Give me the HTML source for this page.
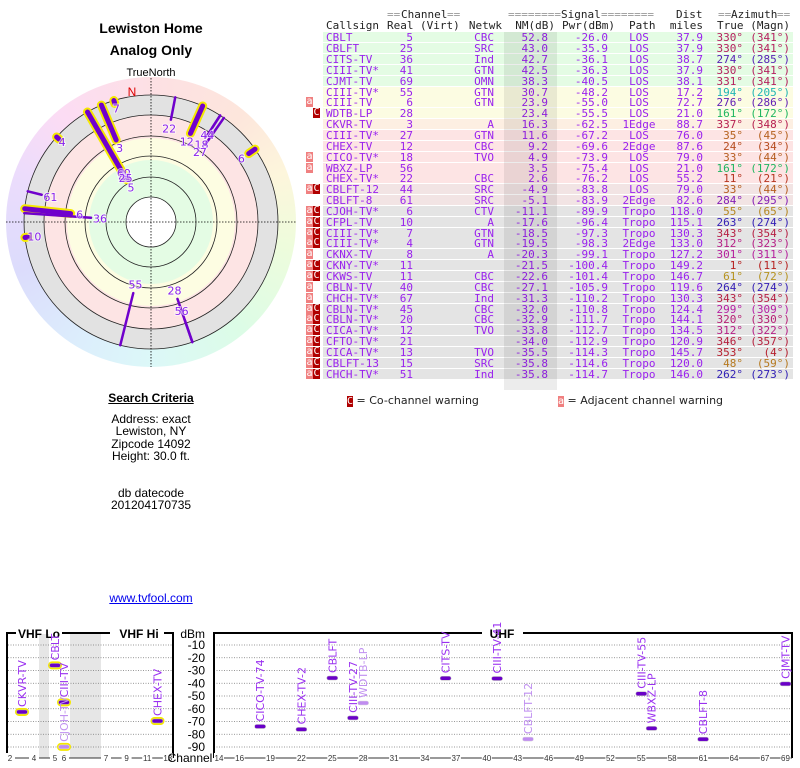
<!DOCTYPE html>
<html><head><meta charset="utf-8">
<style>
body{margin:0;width:800px;height:768px;position:relative;overflow:hidden;background:#fff;font-family:"Liberation Sans",sans-serif;}
.a{position:absolute;white-space:pre;}
.ctr{transform:translateX(-50%);text-align:center;}
.mono{font-family:"DejaVu Sans Mono","Liberation Mono",monospace;font-size:11px;line-height:11px;}
.row{position:absolute;left:323px;width:470px;height:10px;}
.cell{position:absolute;white-space:pre;top:0;font-family:"DejaVu Sans Mono","Liberation Mono",monospace;font-size:11px;line-height:11px;color:#9a22ee;}
.badge{position:absolute;width:7px;height:10px;font-family:"DejaVu Sans Mono",monospace;font-size:10px;line-height:10px;color:#fff;text-align:center;}
</style></head>
<body>
<div class="a ctr" style="left:151px;top:20px;font-weight:bold;font-size:14px;">Lewiston Home</div>
<div class="a ctr" style="left:151px;top:42px;font-weight:bold;font-size:14px;">Analog Only</div>
<div class="a ctr" style="left:151px;top:67px;font-size:11px;">TrueNorth</div>

<div class="a" style="left:6px;top:77px;width:290px;height:290px;border-radius:50%;background:conic-gradient(from 0deg,#fde0e4,#fde6dc 40deg,#fdf6dc 70deg,#eefcdc 100deg,#dcfce6 140deg,#dcf8f8 180deg,#dceefc 210deg,#dcdcfc 250deg,#ecdcfc 290deg,#fcdcf4 320deg,#fde0e4 360deg);"></div>
<svg class="a" style="left:0;top:0" width="300" height="380" id="polar"></svg>

<div class="a ctr" style="left:151px;top:391px;font-weight:bold;font-size:12px;text-decoration:underline;">Search Criteria</div>
<div class="a ctr" style="left:151px;top:413px;font-size:12px;line-height:12.4px;">Address: exact
Lewiston, NY
Zipcode 14092
Height: 30.0 ft.</div>
<div class="a ctr" style="left:151px;top:487px;font-size:12px;line-height:12.4px;">db datecode
201204170735</div>
<div class="a ctr" style="left:151px;top:591px;font-size:12px;color:#0000ee;text-decoration:underline;">www.tvfool.com</div>

<div id="table"></div>
<div class="a" style="left:504px;top:32px;width:53px;height:358px;background:rgba(0,0,0,0.075);"></div>

<div class="a mono" style="left:347px;top:395px;font-size:11px;color:#222;font-family:'DejaVu Sans',sans-serif"><span style="background:#b00000;color:#fff;font-family:'DejaVu Sans Mono',monospace;font-size:10px">C</span> = Co-channel warning</div>
<div class="a mono" style="left:558px;top:395px;font-size:11px;color:#222;font-family:'DejaVu Sans',sans-serif"><span style="background:#f08080;color:#fff;font-family:'DejaVu Sans Mono',monospace;font-size:10px">a</span> = Adjacent channel warning</div>

<svg class="a" style="left:0;top:620px" width="800" height="148" id="spec"></svg>

<script>
// ---- station table data ----
const callsigns=["CBLT","CBLFT","CITS-TV","CIII-TV*","CJMT-TV","CIII-TV*","CIII-TV","WDTB-LP","CKVR-TV","CIII-TV*","CHEX-TV","CICO-TV*","WBXZ-LP","CHEX-TV*","CBLFT-12","CBLFT-8","CJOH-TV*","CFPL-TV","CIII-TV*","CIII-TV*","CKNX-TV","CKNY-TV*","CKWS-TV","CBLN-TV","CHCH-TV*","CBLN-TV*","CBLN-TV*","CICA-TV*","CFTO-TV*","CICA-TV*","CBLFT-13","CHCH-TV*"];
const channels=[5,25,36,41,69,55,6,28,3,27,12,18,56,22,44,61,6,10,7,4,8,11,11,40,67,45,20,12,21,13,15,51];
const networks=["CBC","SRC","Ind","GTN","OMN","GTN","GTN","","A","GTN","CBC","TVO","","CBC","SRC","SRC","CTV","A","GTN","GTN","A","","CBC","CBC","Ind","CBC","CBC","TVO","","TVO","SRC","Ind"];
const nmDb=[52.8,43.0,42.7,42.5,38.3,30.7,23.9,23.4,16.3,11.6,9.2,4.9,3.5,2.6,-4.9,-5.1,-11.1,-17.6,-18.5,-19.5,-20.3,-21.5,-22.6,-27.1,-31.3,-32.0,-32.9,-33.8,-34.0,-35.5,-35.8,-35.8];
const pwrDbm=[-26.0,-35.9,-36.1,-36.3,-40.5,-48.2,-55.0,-55.5,-62.5,-67.2,-69.6,-73.9,-75.4,-76.2,-83.8,-83.9,-89.9,-96.4,-97.3,-98.3,-99.1,-100.4,-101.4,-105.9,-110.2,-110.8,-111.7,-112.7,-112.9,-114.3,-114.6,-114.7];
const paths=["LOS","LOS","LOS","LOS","LOS","LOS","LOS","LOS","1Edge","LOS","2Edge","LOS","LOS","LOS","LOS","2Edge","Tropo","Tropo","Tropo","2Edge","Tropo","Tropo","Tropo","Tropo","Tropo","Tropo","Tropo","Tropo","Tropo","Tropo","Tropo","Tropo"];
const distMiles=[37.9,37.9,38.7,37.9,38.1,17.2,72.7,21.0,88.7,76.0,87.6,79.0,21.0,55.2,79.0,82.6,118.0,115.1,130.3,133.0,127.2,149.2,146.7,119.6,130.3,124.4,144.1,134.5,120.9,145.7,120.0,146.0];
const azTrue=[330,330,274,330,331,194,276,161,337,35,24,33,161,11,33,284,55,263,343,312,301,1,61,264,343,299,320,312,346,353,48,262];
const azMagn=[341,341,285,341,341,205,286,172,348,45,34,44,172,21,44,295,65,274,354,323,311,11,72,274,354,309,330,322,357,4,59,273];
const warnings=["","","","","","","a","C","","","","a","a","","aC","","aC","aC","aC","aC","a","aC","aC","a","a","aC","aC","aC","aC","aC","aC","aC"];

// ---- spectrum data ----
const specNames=["CKVR-TV","CBLT","CIII-TV","CJOH-TV","CHEX-TV","CICO-TV-74","CHEX-TV-2","CBLFT","CIII-TV-27","WDTB-LP","CITS-TV","CIII-TV-41","CBLFT-12","CIII-TV-55","WBXZ-LP","CBLFT-8","CJMT-TV"];
const specCh=[3,5,6,6,12,18,22,25,27,28,36,41,44,55,56,61,69];
const specPwr=[-62.5,-26.0,-55.0,-89.9,-69.6,-73.9,-76.2,-35.9,-67.2,-55.5,-36.1,-36.3,-83.8,-48.2,-75.4,-83.9,-40.5];
const specFaded=[false,false,false,true,false,false,false,false,false,true,false,false,true,false,false,false,false];
const dbmTicks=[-10,-20,-30,-40,-50,-60,-70,-80,-90];
const vhfTicks=[2,4,5,6,7,9,11,13];
const uhfTicks=[14,16,19,22,25,28,31,34,37,40,43,46,49,52,55,58,61,64,67,69];

const NS="http://www.w3.org/2000/svg";
function mk(tag,attrs,parent){const e=document.createElementNS(NS,tag);for(const k in attrs)e.setAttribute(k,attrs[k]);parent.appendChild(e);return e;}

function azColor(a){let h;
 if(a<=60)h=a*0.75; else if(a<=200)h=45+(a-60); else if(a<=270)h=185+(a-200); else if(a<=300)h=255+(a-270)*1.8; else h=309+(a-300)*0.85;
 return "hsl("+(h%360)+",70%,42%)";}

// ---- table ----
const T=document.getElementById('table');
function div(cls,style,txt,parent){const d=document.createElement('div');d.className=cls;d.style.cssText=style;d.textContent=txt;parent.appendChild(d);return d;}
const hdr=[["==",387,14,"#999"],["Channel",401,14,"#222"],["==",447,14,"#999"],
 ["========",508,14,"#999"],["Signal",561,14,"#222"],["========",601,14,"#999"],
 ["==",718,14,"#999"],["Azimuth",731,14,"#222"],["==",777,14,"#999"]];
hdr.forEach(h=>{const d=div('a mono',`left:${h[1]}px;top:${h[2]-5}px;color:${h[3]}`,h[0],T);});
const h2=[["Callsign",326,"l"],["Real",387,"l"],["(Virt)",420,"l"],["Netwk",502,"r"],["NM(dB)",555,"r"],["Pwr(dBm)",615,"r"],["Path",629,"l"],["miles",703,"r"],["True",717,"l"],["(Magn)",790,"r"]];
const dist=div('a mono','left:676px;top:9px;color:#222',"Dist",T);

h2.forEach(h=>{const s=h[2]=="l"?`left:${h[1]}px`:`right:${800-h[1]}px`;
 const d=div('a mono',s+';top:20px;color:#222',h[0],T);});
function rowBg(i){if(i<5)return"#e4fce4";if(i<8)return"#fcfce2";if(i<9)return"#fdefe2";if(i<14)return"#fde4e4";if(i<16)return"#f2e4e4";return"#e4e4e4";}
callsigns.forEach((c,i)=>{
 const top=32.3+i*10.85;
 const r=div('row',`top:${top}px;background:${rowBg(i)}`,'',T);
 
 const cells=[[c,3,"l"],[String(channels[i]),413,"r"],[networks[i],494,"r"],[nmDb[i].toFixed(1),548,"r"],[pwrDbm[i].toFixed(1),608,"r"],[paths[i],639,"c"],[distMiles[i].toFixed(1),703,"r"]];
 cells.forEach(k=>{let s;if(k[2]=="l")s=`left:${k[1]}px`;else if(k[2]=="r")s=`right:${793-k[1]}px`;else s=`left:${k[1]-323}px;transform:translateX(-50%)`;
  const d=div('cell',s,k[0],r);});
 const col=azColor(azTrue[i]);
 const t=div('cell',`right:${793-743}px;color:${col}`,azTrue[i]+"°",r);
 const m=div('cell',`right:${793-790}px;color:${col}`,"("+azMagn[i]+"°)",r);
 const w=warnings[i];
 if(w.includes('C')){const b=div('badge',`left:${313}px;top:${top}px;background:#b00000`,'C',T);}
 if(w.includes('a')){const b=div('badge',`left:306px;top:${top}px;background:#f08080`,'a',T);}
});

// ---- polar ----
const P=document.getElementById('polar');
const cx=151,cy=222;
const bands=[[127,"#e2e2e2"],[107,"#fde4e4"],[84,"#fdfde2"],[62,"#e4fce4"],[25,"#ffffff"]];
bands.forEach(b=>{const e=mk('circle',{cx:cx,cy:cy,r:b[0],fill:b[1]},P);});
[25,45,66,86,107,127].forEach(r=>{const e=mk('circle',{cx:cx,cy:cy,r:r,fill:"none",stroke:"#222","stroke-width":0.8},P);});
let e1=mk('line',{x1:6,y1:cy,x2:296,y2:cy,stroke:"#000","stroke-width":0.8,"stroke-dasharray":"1.5,1.5"},P);

let e2=mk('line',{x1:cx,y1:78,x2:cx,y2:367,stroke:"#000","stroke-width":0.8,"stroke-dasharray":"1.5,1.5"},P);

let nt=mk('text',{x:132,y:96,fill:"#dd0000","font-size":12,"text-anchor":"middle","font-family":"Liberation Sans"},P);nt.textContent="N";

function rOf(nm){return Math.min(125,43+(52.8-nm)*1.1);}
function pt(az,r){const a=az*Math.PI/180;return[cx+r*Math.sin(a),cy-r*Math.cos(a)];}
const order=callsigns.map((c,i)=>i).filter(i=>nmDb[i]>=-20).reverse();
order.forEach(i=>{
 const vhf=channels[i]<=13;const r0=rOf(nmDb[i]);const r1=Math.max(r0+6,127);
 const a=pt(azTrue[i],Math.min(r0+6,124)),b=pt(azTrue[i],Math.min(r1,127));
 if(vhf){const y=mk('line',{x1:a[0],y1:a[1],x2:b[0],y2:b[1],stroke:"#f5e800","stroke-width":9,"stroke-linecap":"round"},P);}
 const l=mk('line',{x1:a[0],y1:a[1],x2:b[0],y2:b[1],stroke:"#7000cc","stroke-width":vhf?5:2.5,"stroke-linecap":"round"},P);
 
});
order.forEach(i=>{
 const r0=rOf(nmDb[i]);const p=pt(azTrue[i],r0-3);
 const t=mk('text',{x:p[0],y:p[1]+4,fill:"#8a22ee","font-size":11,"text-anchor":"middle","font-family":"DejaVu Sans","stroke":"rgba(255,255,255,0.6)","stroke-width":2,"paint-order":"stroke"},P);
 t.textContent=channels[i];
 
});

// ---- spectrum ----
const S=document.getElementById('spec');
function yOf(d){return 25+(-10-d)*1.275;}
function chX(ch){if(ch<=4)return 10+(ch-2)*12;if(ch==5)return 55;if(ch==6)return 64;if(ch<=13)return 106+(ch-7)*10.3;return 219+(ch-14)*10.3;}
[[39,49],[70,101]].forEach(g=>{const r=mk('rect',{x:g[0],y:14,width:g[1]-g[0],height:124,fill:"#e6e6e6"},S);});
dbmTicks.forEach(d=>{
 [[8,172],[214,791]].forEach(s=>{const l=mk('line',{x1:s[0],y1:yOf(d),x2:s[1],y2:yOf(d),stroke:"#777","stroke-width":0.8,"stroke-dasharray":"1,1.5"},S);});
 const t=mk('text',{x:205,y:yOf(d)+4,"font-size":12,"text-anchor":"end","font-family":"Liberation Sans"},S);t.textContent=d;
 
});
let du=mk('text',{x:205,y:18,"font-size":12,"text-anchor":"end","font-family":"Liberation Sans"},S);du.textContent="dBm";

const fr=["M7,138 L7,13 L16,13","M62,13 L110,13","M164,13 L173,13 L173,138","M214,138 L214,13 L482,13","M523,13 L792,13 L792,138"];
fr.forEach(f=>{const p=mk('path',{d:f,fill:"none",stroke:"#000","stroke-width":2},S);});
[["VHF Lo",39],["VHF Hi",139],["UHF",502]].forEach(b=>{const t=mk('text',{x:b[1],y:18,"font-size":12,"font-weight":"bold","text-anchor":"middle","font-family":"Liberation Sans"},S);t.textContent=b[0];});
[[7,173],[214,792]].forEach(s=>{const l=mk('line',{x1:s[0],y1:138,x2:s[1],y2:138,stroke:"#333","stroke-width":1},S);});
vhfTicks.concat(uhfTicks).forEach(c=>{const x=chX(c);
 const bg=mk('rect',{x:x-5,y:133,width:10,height:10,fill:"#fff"},S);
 const t=mk('text',{x:x,y:141,"font-size":8,"text-anchor":"middle","font-family":"Liberation Sans",fill:"#333"},S);t.textContent=c;
 });
let ct=mk('text',{x:190,y:142,"font-size":12,"text-anchor":"middle","font-family":"Liberation Sans"},S);ct.textContent="Channel";

specNames.forEach((n,i)=>{
 const x=chX(specCh[i]),y=yOf(specPwr[i]);const vhf=specCh[i]<=13;const col=specFaded[i]?"#c08cf0":"#6a00c8";
 if(vhf){const h=mk('rect',{x:x-7,y:y-4,width:14,height:8,rx:4,fill:"#f5e800"},S);}
 const m=mk('rect',{x:x-5.5,y:y-2,width:11,height:4,rx:2,fill:col,stroke:specFaded[i]?"#ddd":"#bbb","stroke-width":0.5},S);
 
 const t=mk('text',{x:0,y:0,"font-size":11,"font-family":"DejaVu Sans",fill:specFaded[i]?"#c090f0":"#9a30f0",transform:`translate(${x+4},${y-5}) rotate(-90)`},S);
 t.textContent=n;
});
</script>
</body></html>
